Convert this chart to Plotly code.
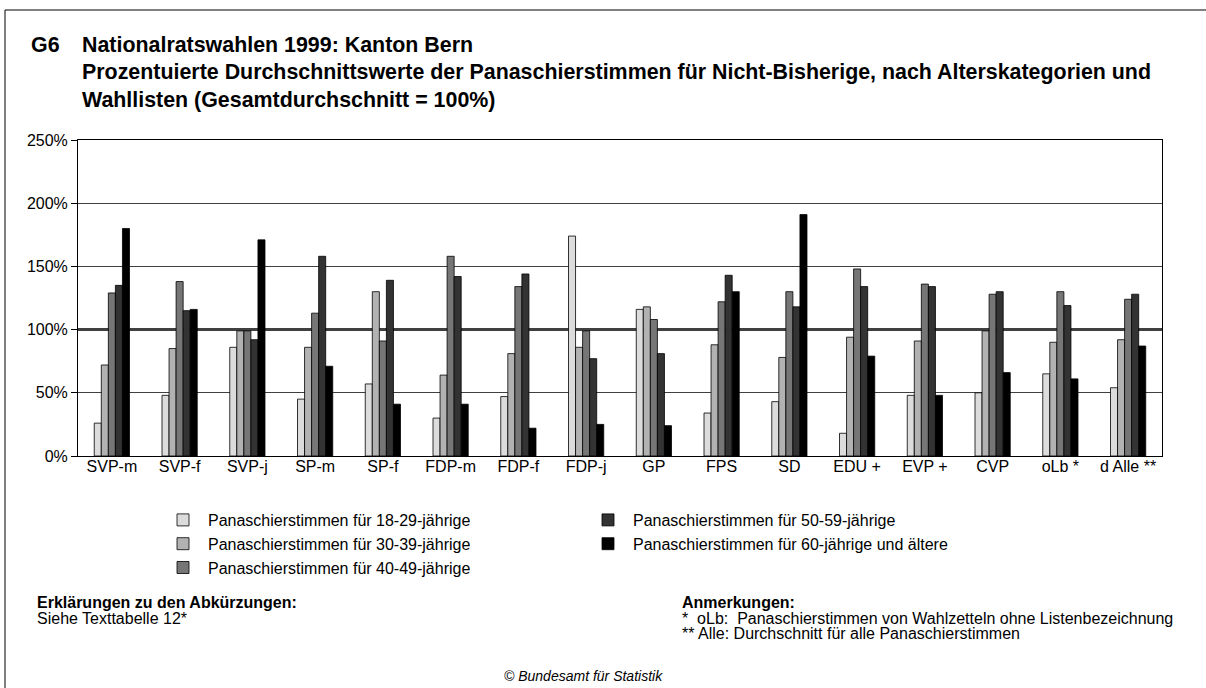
import plotly.graph_objects as go

categories = ["SVP-m", "SVP-f", "SVP-j", "SP-m", "SP-f", "FDP-m", "FDP-f", "FDP-j",
              "GP", "FPS", "SD", "EDU +", "EVP +", "CVP", "oLb *", "d Alle **"]

age_18_29 = [26, 48, 86, 45, 57, 30, 47, 174, 116, 34, 43, 18, 48, 50, 65, 54]
age_30_39 = [72, 85, 99, 86, 130, 64, 81, 86, 118, 88, 78, 94, 91, 99, 90, 92]
age_40_49 = [129, 138, 99, 113, 91, 158, 134, 99, 108, 122, 130, 148, 136, 128, 130, 124]
age_50_59 = [135, 115, 92, 158, 139, 142, 144, 77, 81, 143, 118, 134, 134, 130, 119, 128]
age_60_plus = [180, 116, 171, 71, 41, 41, 22, 25, 24, 130, 191, 79, 48, 66, 61, 87]

series_names = ["Panaschierstimmen für 18-29-jährige",
                "Panaschierstimmen für 30-39-jährige",
                "Panaschierstimmen für 40-49-jährige",
                "Panaschierstimmen für 50-59-jährige",
                "Panaschierstimmen für 60-jährige und ältere"]
series_values = [age_18_29, age_30_39, age_40_49, age_50_59, age_60_plus]
series_colors = ["#dcdcdc", "#b2b2b2", "#767676", "#333333", "#000000"]
series_legend = ["legend", "legend", "legend", "legend2", "legend2"]

y_ticks = [0, 50, 100, 150, 200, 250]
reference_level = 100

W, H = 1206, 688
L, R, T, B = 78, 1162, 140, 456

def px(x):
    return (x - L) / (R - L)

def py(y):
    return (B - y) / (B - T)

FONT = "Liberation Sans, Arial, sans-serif"

fig = go.Figure()
for name, vals, col, lg in zip(series_names, series_values, series_colors, series_legend):
    fig.add_trace(go.Bar(
        x=categories, y=vals, name=name, legend=lg, legendgroup=name,
        marker=dict(color=col, line=dict(color="#000000", width=0.8)),
    ))

annotations = []
def ann(text, x, y, size=16, bold=False, italic=False, xanchor="left"):
    if bold:
        text = "<b>" + text + "</b>"
    if italic:
        text = "<i>" + text + "</i>"
    annotations.append(dict(text=text, x=px(x), y=py(y), xref="paper", yref="paper",
                            xanchor=xanchor, yanchor="middle", showarrow=False,
                            font=dict(family=FONT, size=size, color="#000000")))

ann("G6", 29, 45, size=21.4, bold=True)
ann("Nationalratswahlen 1999: Kanton Bern", 80, 45, size=21.4, bold=True)
ann("Prozentuierte Durchschnittswerte der Panaschierstimmen für Nicht-Bisherige, nach Alterskategorien und",
    80, 72, size=21.4, bold=True)
ann("Wahllisten (Gesamtdurchschnitt = 100%)", 80, 100, size=21.4, bold=True)

ann("Erklärungen zu den Abkürzungen:", 35, 602, bold=True)
ann("Siehe Texttabelle 12*", 35, 618)
ann("Anmerkungen:", 680, 602, bold=True)
ann("*  oLb:  Panaschierstimmen von Wahlzetteln ohne Listenbezeichnung", 680, 618)
ann("** Alle: Durchschnitt für alle Panaschierstimmen", 680, 633)
ann("© Bundesamt für Statistik", 583, 676, size=14, italic=True, xanchor="center")

shapes = [
    dict(type="rect", xref="paper", yref="paper", x0=px(5), x1=px(1220), y0=py(10), y1=py(700),
         line=dict(color="#000000", width=1), fillcolor="rgba(0,0,0,0)", layer="above"),
    dict(type="line", xref="paper", yref="y", x0=0, x1=1, y0=reference_level, y1=reference_level,
         line=dict(color="#000000", width=2.5), layer="between"),
]

legend_common = dict(
    orientation="v", xanchor="left", yanchor="top",
    font=dict(family=FONT, size=16, color="#000000"),
    bgcolor="rgba(0,0,0,0)", tracegroupgap=0, itemwidth=40,
)

fig.update_layout(
    width=W, height=H,
    margin=dict(l=L, r=W - R, t=T, b=H - B),
    paper_bgcolor="#ffffff", plot_bgcolor="#ffffff",
    barmode="group", bargap=0.48, bargroupgap=0,
    font=dict(family=FONT, size=16, color="#000000"),
    showlegend=True,
    legend=dict(x=px(158), y=py(503), **legend_common),
    legend2=dict(x=px(583), y=py(503), **legend_common),
    xaxis=dict(showline=True, linecolor="#000000", linewidth=1, mirror=True,
               ticks="", tickfont=dict(size=16), showgrid=False, ticklabelstandoff=-4),
    yaxis=dict(range=[0, 250], tickvals=y_ticks, ticktext=[f"{v}%" for v in y_ticks],
               showline=True, linecolor="#000000", linewidth=1, mirror=True,
               ticks="outside", ticklen=6, tickcolor="#000000",
               showgrid=True, gridcolor="#404040", gridwidth=1,
               tickfont=dict(size=16), zeroline=False),
    annotations=annotations,
    shapes=shapes,
)

fig.write_html("out.html", config={"displayModeBar": False},
               post_script="document.body.style.margin='0';document.body.style.padding='0';")
